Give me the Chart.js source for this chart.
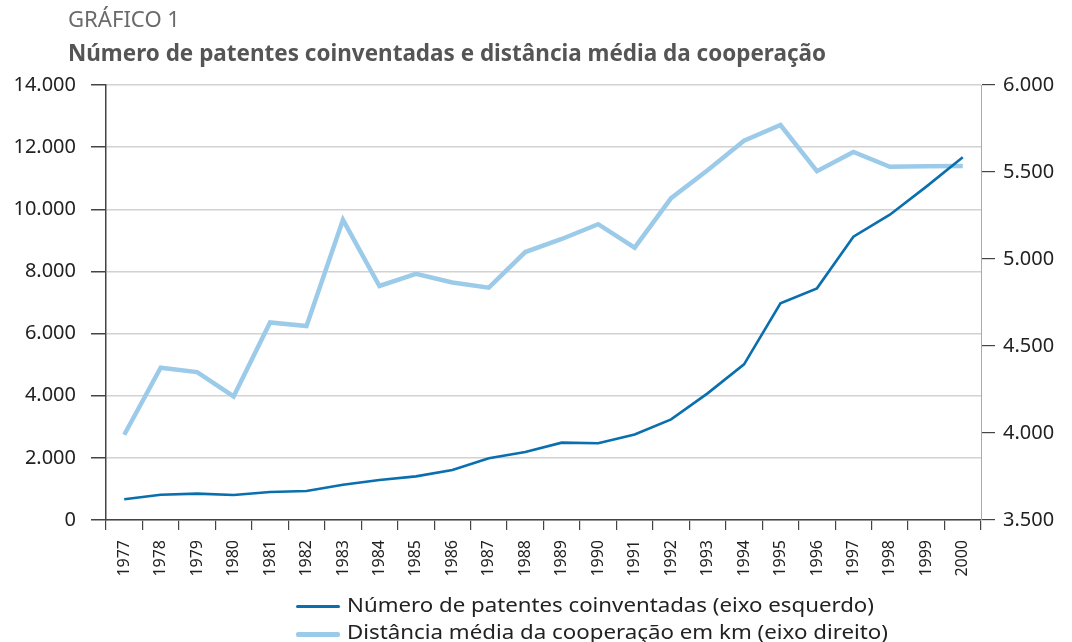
<!DOCTYPE html>
<html>
<head>
<meta charset="utf-8">
<script src="https://cdn.jsdelivr.net/npm/chart.js@4.4.1/dist/chart.umd.min.js"></script>
<style>
    html, body { margin: 0; padding: 0; background: #fff; }
    body { width: 1072px; height: 642px; position: relative; overflow: hidden; font-family: "Noto Sans", sans-serif; }
    #chart { position: absolute; left: 0; top: 0; }
    .fit { position: absolute; white-space: nowrap; transform-origin: 0 0; }
    #kicker { left: 68px; top: 5px; font-size: 21px; color: #6a6a6a; }
    #title { left: 68px; top: 36px; font-size: 23px; font-weight: bold; color: #555; }
    .leg { position: absolute; left: 296px; height: 30px; }
    .leg .swatch { position: absolute; left: 0; width: 44px; border-radius: 2px; }
    .leg .fit { left: 51px; top: 0; font-size: 19px; color: #222; }
</style>
</head>
<body>
<canvas id="chart" width="1072" height="642"></canvas>
<div id="kicker" class="fit" data-w="112">GRÁFICO 1</div>
<div id="title" class="fit" data-w="758">Número de patentes coinventadas e distância média da cooperação</div>
<div class="leg" style="top:592px">
    <div class="swatch" style="top:13px;height:3px;background:#0a6fae"></div>
    <div class="fit" data-w="527">Número de patentes coinventadas (eixo esquerdo)</div>
</div>
<div class="leg" style="top:619px">
    <div class="swatch" style="top:13px;height:5px;background:#9ccbe9"></div>
    <div class="fit" data-w="541">Distância média da cooperação em km (eixo direito)</div>
</div>
<script>
// Years on the x axis
const years = ['1977', '1978', '1979', '1980', '1981', '1982', '1983', '1984', '1985', '1986', '1987', '1988',
    '1989', '1990', '1991', '1992', '1993', '1994', '1995', '1996', '1997', '1998', '1999', '2000'];

// Co-invented patents (left axis)
const patents = [670, 815, 850, 805, 900, 935, 1135, 1290, 1405, 1610, 1985, 2190,
    2490, 2470, 2755, 3240, 4075, 5010, 6975, 7455, 9120, 9825, 10730, 11675];

// Average cooperation distance in km (right axis)
const distance = [3990, 4375, 4350, 4210, 4635, 4615, 5225, 4845, 4915, 4865, 4835, 5040,
    5115, 5200, 5065, 5350, 5510, 5680, 5770, 5505, 5615, 5530, 5533, 5535];

// Tick values
const leftTicks = [0, 2000, 4000, 6000, 8000, 10000, 12000, 14000];
const rightTicks = [3500, 4000, 4500, 5000, 5500, 6000];

const fmt = v => v.toLocaleString('de-DE');

// squeeze the text blocks to the widths of the reference
document.querySelectorAll('.fit').forEach(el => {
    const target = parseFloat(el.dataset.w);
    const w = el.getBoundingClientRect().width;
    if (w > 0) el.style.transform = 'scaleX(' + (target / w) + ')';
});

const ctx = document.getElementById('chart').getContext('2d');
new Chart(ctx, {
    type: 'line',
    data: {
        labels: years,
        datasets: [
            {
                label: 'Número de patentes coinventadas (eixo esquerdo)',
                data: patents,
                yAxisID: 'y',
                borderColor: '#0a6fae',
                borderWidth: 2.6,
                pointRadius: 0,
                tension: 0,
                order: 1
            },
            {
                label: 'Distância média da cooperação em km (eixo direito)',
                data: distance,
                yAxisID: 'y2',
                borderColor: '#9ccbe9',
                borderWidth: 4.5,
                pointRadius: 0,
                tension: 0,
                order: 2
            }
        ]
    },
    options: {
        responsive: false,
        animation: false,
        layout: { padding: { top: 85, left: 0, right: 0, bottom: 0 } },
        plugins: {
            legend: { display: false },
            tooltip: { enabled: false }
        },
        scales: {
            x: {
                offset: true,
                afterFit: s => { s.height = 122; },
                grid: {
                    offset: true,
                    drawOnChartArea: false,
                    tickLength: 10,
                    tickColor: '#444',
                    lineWidth: 1.2
                },
                border: { color: '#444', width: 1.5 },
                ticks: {
                    minRotation: 90,
                    maxRotation: 90,
                    padding: 10,
                    color: '#222',
                    font: { family: 'Noto Sans', size: 16 }
                }
            },
            y: {
                position: 'left',
                min: 0,
                max: 14000,
                afterFit: s => { s.width = 106; },
                afterBuildTicks: s => { s.ticks = leftTicks.map(v => ({ value: v })); },
                grid: {
                    color: '#d2d2d2',
                    lineWidth: 1.5,
                    tickLength: 15,
                    tickColor: '#444',
                    drawTicks: true
                },
                border: { color: '#444', width: 1.5 },
                ticks: {
                    padding: 15,
                    color: '#222',
                    font: { family: 'Noto Sans', size: 20 },
                    callback: v => fmt(v)
                }
            },
            y2: {
                position: 'right',
                min: 3500,
                max: 6000,
                afterFit: s => { s.width = 91; },
                afterBuildTicks: s => { s.ticks = rightTicks.map(v => ({ value: v })); },
                grid: {
                    drawOnChartArea: false,
                    tickLength: 14,
                    tickColor: '#444',
                    lineWidth: 1.2
                },
                border: { color: '#aaa', width: 1 },
                ticks: {
                    padding: 8,
                    color: '#222',
                    font: { family: 'Noto Sans', size: 20 },
                    callback: v => fmt(v)
                }
            }
        }
    }
});
</script>
</body>
</html>
